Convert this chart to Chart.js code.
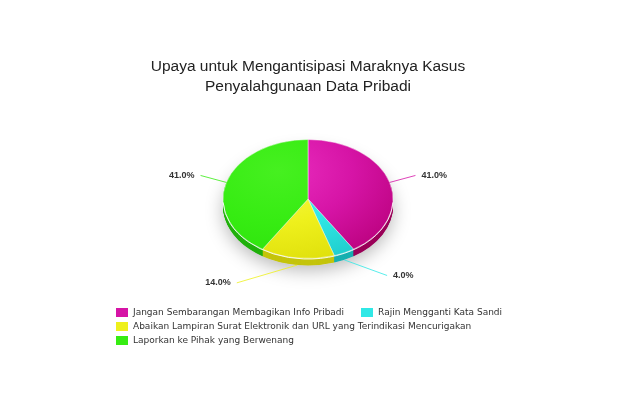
<!DOCTYPE html>
<html>
<head>
<meta charset="utf-8">
<script src="https://cdn.jsdelivr.net/npm/chart.js@4.4.1/dist/chart.umd.min.js"></script>
<style>
    html, body { margin: 0; padding: 0; background: #fff; }
    #wrap { position: relative; width: 620px; height: 413px; }
    #legend {
        position: absolute; left: 116px; top: 305px; width: 445px;
        display: flex; flex-wrap: wrap;
        font: 9px "DejaVu Sans", sans-serif; color: #333;
    }
    #legend .item { display: flex; align-items: center; height: 14px; margin-right: 17px; white-space: nowrap; }
    #legend .box { width: 12px; height: 9px; margin-right: 5px; }
</style>
</head>
<body>
<div id="wrap">
    <canvas id="pieChart"></canvas>
    <div id="legend"></div>
</div>
<script>
const titleLines = ['Upaya untuk Mengantisipasi Maraknya Kasus', 'Penyalahgunaan Data Pribadi'];
const categories = [
    'Jangan Sembarangan Membagikan Info Pribadi',
    'Rajin Mengganti Kata Sandi',
    'Abaikan Lampiran Surat Elektronik dan URL yang Terindikasi Mencurigakan',
    'Laporkan ke Pihak yang Berwenang'
];
const shares = [41.0, 4.0, 14.0, 41.0];
const topColors = ['#d614a6', '#30e8e6', '#eef01c', '#36ec12'];
const lightColors = ['#ea2ec0', '#5af4f2', '#f8fa50', '#46f020'];
const darkColors = ['#b8007a', '#1cc8c8', '#dcdc08', '#2ce00c'];
const sideColors = ['#9a0058', '#18b0b0', '#c4c40c', '#20b00c'];

const TILT = 0.70;
const DEPTH = 7;

// flat circle -> ellipse, with a side wall and a soft shadow
const tiltPlugin = {
    id: 'tilt',
    beforeDatasetsDraw(chart) {
        const ctx = chart.ctx;
        const arcs = chart.getDatasetMeta(0).data;
        const cx = arcs[0].x, cy = arcs[0].y;
        const rx = arcs[0].outerRadius, ry = rx * TILT;

        ctx.save();
        ctx.shadowColor = 'rgba(0,0,0,0.28)';
        ctx.shadowBlur = 18;
        ctx.shadowOffsetY = 5;
        ctx.fillStyle = '#ddd';
        ctx.beginPath();
        ctx.ellipse(cx, cy + DEPTH, rx, ry, 0, 0, Math.PI * 2);
        ctx.fill();
        ctx.restore();

        for (let d = DEPTH; d > 0; d -= 0.5) {
            arcs.forEach((arc, i) => {
                ctx.fillStyle = sideColors[i];
                ctx.beginPath();
                ctx.moveTo(cx, cy + d);
                ctx.ellipse(cx, cy + d, rx, ry, 0, arc.startAngle, arc.endAngle);
                ctx.closePath();
                ctx.fill();
            });
        }

        ctx.save();
        ctx.translate(cx, cy);
        ctx.scale(1, TILT);
        ctx.translate(-cx, -cy);
    },
    afterDatasetsDraw(chart) {
        const ctx = chart.ctx;
        ctx.restore();

        const arcs = chart.getDatasetMeta(0).data;
        const cx = arcs[0].x, cy = arcs[0].y;
        const rx = arcs[0].outerRadius, ry = rx * TILT;

        // white rim along the front edge
        ctx.save();
        ctx.strokeStyle = 'rgba(255,255,255,0.85)';
        ctx.lineWidth = 1;
        ctx.beginPath();
        ctx.ellipse(cx, cy + 0.5, rx, ry, 0, 0.05, Math.PI - 0.05);
        ctx.stroke();
        ctx.restore();

        // outside labels with connectors
        const R = rx + 25;
        ctx.save();
        ctx.font = 'bold 9px "Liberation Sans", Arial, sans-serif';
        ctx.fillStyle = '#333';
        ctx.textBaseline = 'middle';
        arcs.forEach((arc, i) => {
            const a = (arc.startAngle + arc.endAngle) / 2;
            const px = cx + rx * Math.cos(a);
            let py = cy + ry * Math.sin(a);
            if (Math.sin(a) > 0.3) py += DEPTH;
            const ly = cy + (ry + 25) * Math.sin(a);
            const side = Math.cos(a) >= 0 ? 1 : -1;
            const lx = cx + side * Math.sqrt(Math.max(0, R * R - (ly - cy) * (ly - cy)));
            ctx.strokeStyle = topColors[i];
            ctx.globalAlpha = 0.8;
            ctx.lineWidth = 1;
            ctx.beginPath();
            ctx.moveTo(px, py);
            ctx.lineTo(lx, ly);
            ctx.stroke();
            ctx.globalAlpha = 1;
            ctx.textAlign = side > 0 ? 'left' : 'right';
            ctx.fillText(shares[i].toFixed(1) + '%', lx + side * 6, ly);
        });
        ctx.restore();
    }
};

const sliceFill = c => {
    const area = c.chart.chartArea;
    const i = c.dataIndex;
    if (!area) return topColors[i];
    const cx = (area.left + area.right) / 2;
    const cy = (area.top + area.bottom) / 2;
    const g = c.chart.ctx.createRadialGradient(cx - 30, cy - 40, 0, cx - 30, cy - 40, 150);
    g.addColorStop(0, lightColors[i]);
    g.addColorStop(0.5, topColors[i]);
    g.addColorStop(1, darkColors[i]);
    return g;
};

const pieChart = new Chart(document.getElementById('pieChart'), {
    type: 'pie',
    data: {
        labels: categories,
        datasets: [{
            data: shares,
            backgroundColor: sliceFill,
            borderColor: 'rgba(255,255,255,0.55)',
            borderWidth: 1,
            radius: 85
        }]
    },
    options: {
        responsive: true,
        maintainAspectRatio: false,
        animation: false,
        layout: { padding: { left: 0, right: 4, bottom: 121 } },
        plugins: {
            legend: { display: false },
            tooltip: { enabled: false },
            title: {
                display: true,
                text: titleLines,
                color: '#222',
                font: { family: '"Liberation Sans", Arial, sans-serif', size: 15.5, weight: 'normal', lineHeight: 1.26 },
                padding: { top: 57, bottom: 10 }
            }
        }
    },
    plugins: [tiltPlugin]
});

const legendBox = document.getElementById('legend');
categories.forEach((name, i) => {
    const item = document.createElement('div');
    item.className = 'item';
    item.innerHTML = `<span class="box" style="background:${topColors[i]}"></span>${name}`;
    legendBox.appendChild(item);
});
</script>
</body>
</html>
